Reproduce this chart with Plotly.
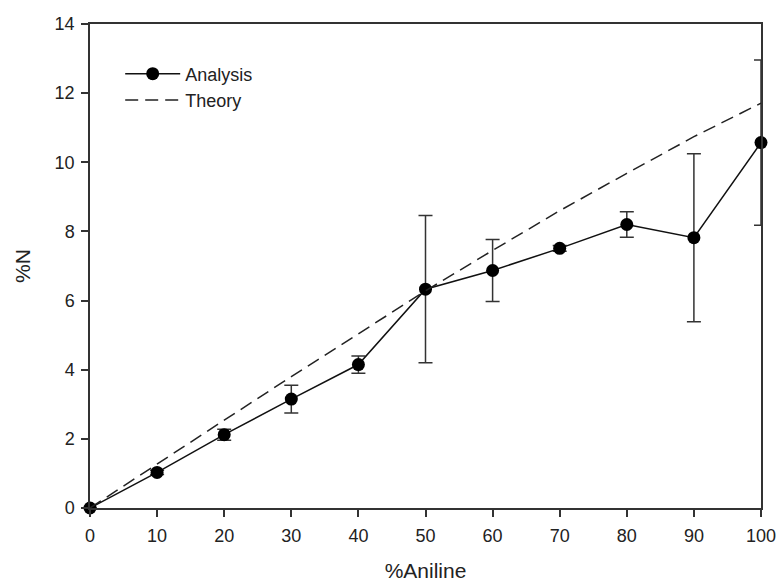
import plotly.graph_objects as go

aniline = [0, 10, 20, 30, 40, 50, 60, 70, 80, 90, 100]
analysis_n = [0.0, 1.03, 2.12, 3.15, 4.15, 6.33, 6.87, 7.51, 8.20, 7.82, 10.57]
analysis_err = [0.0, 0.06, 0.16, 0.40, 0.25, 2.13, 0.90, 0.08, 0.37, 2.43, 2.39]
theory_n = [0.0, 1.28, 2.54, 3.80, 5.05, 6.28, 7.45, 8.60, 9.68, 10.74, 11.71]

x_ticks = [0, 10, 20, 30, 40, 50, 60, 70, 80, 90, 100]
y_ticks = [0, 2, 4, 6, 8, 10, 12, 14]

FONT = "Liberation Sans, Arial, sans-serif"

fig = go.Figure()
fig.add_trace(go.Scatter(
    x=aniline, y=analysis_n, name="Analysis", mode="lines+markers",
    line=dict(color="#111111", width=1.5),
    marker=dict(color="#000000", size=13, symbol="circle"),
    error_y=dict(type="data", array=analysis_err, visible=True,
                 color="#333333", thickness=1.5, width=7),
    cliponaxis=False,
))
fig.add_trace(go.Scatter(
    x=aniline, y=theory_n, name="Theory", mode="lines",
    line=dict(color="#222222", width=1.5, dash="13px,7px"),
    cliponaxis=False,
))

axis_common = dict(
    showgrid=False, zeroline=False, showline=True, mirror=True,
    linecolor="#333333", linewidth=1.5, automargin=False,
    ticks="outside", ticklen=7, tickwidth=1.5, tickcolor="#333333",
    tickfont=dict(family=FONT, size=18, color="#222222"),
)

fig.update_layout(
    width=779, height=586,
    margin=dict(l=90, r=18, t=24, b=78),
    paper_bgcolor="white", plot_bgcolor="white",
    xaxis=dict(range=[0, 100], tickvals=x_ticks, ticklabelstandoff=4,
               title=dict(text="%Aniline", standoff=18,
                          font=dict(family=FONT, size=21, color="#222222")),
               **axis_common),
    yaxis=dict(range=[0, 14], tickvals=y_ticks, ticklabelstandoff=3,
               title=dict(text="%N", standoff=18,
                          font=dict(family=FONT, size=21, color="#222222")),
               **axis_common),
    legend=dict(x=0.045, y=0.935, xanchor="left", yanchor="top",
                bgcolor="rgba(0,0,0,0)", itemwidth=55,
                font=dict(family=FONT, size=18, color="#222222"),
                tracegroupgap=0),
    showlegend=True,
)

fig.write_html("out.html")
